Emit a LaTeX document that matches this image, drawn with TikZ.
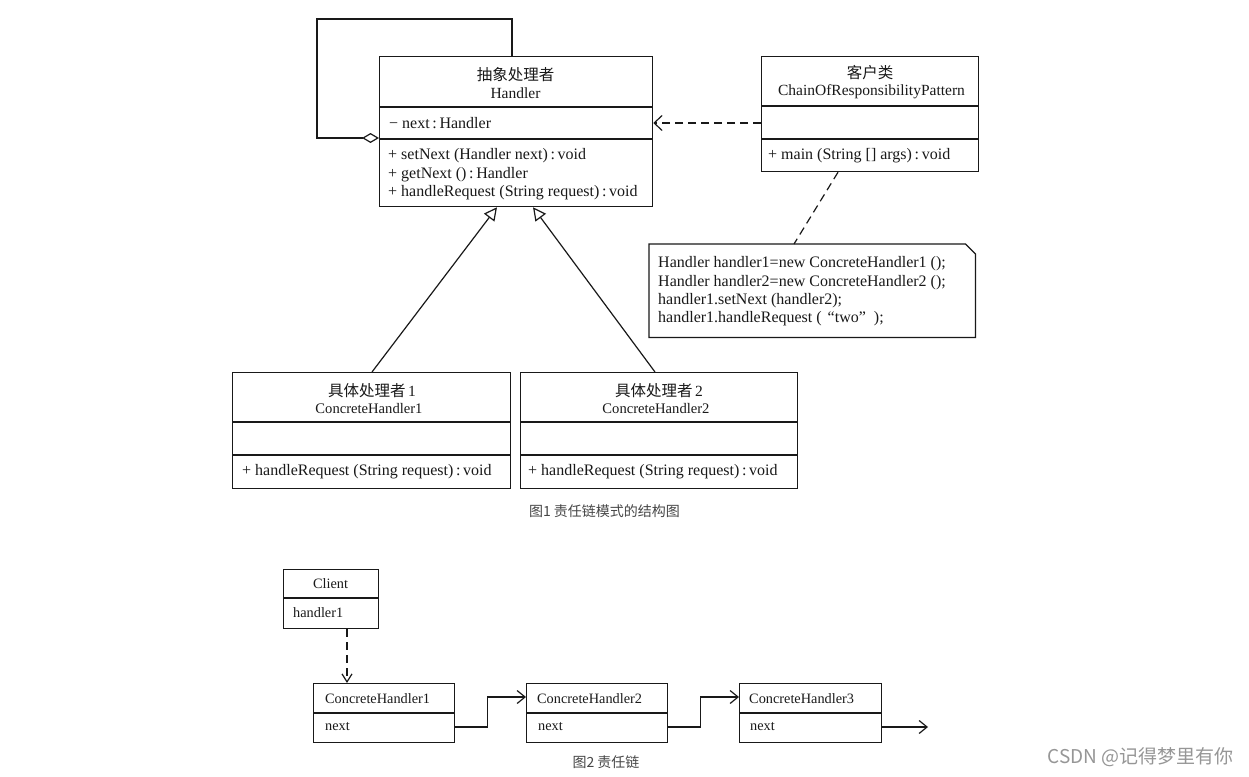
\documentclass[tikz,border=0pt]{standalone}
\usepackage{fontspec}
\setmainfont{Liberation Serif}
\newfontfamily\cjk{Noto Sans CJK SC}
\usetikzlibrary{arrows.meta}
\definecolor{ink}{RGB}{25,25,25}
\definecolor{capgray}{RGB}{70,70,70}
\definecolor{wmgray}{RGB}{150,150,150}
\newcommand{\hdr}{\fontsize{15.5}{18}\selectfont}
\newcommand{\hdrs}{\fontsize{14.6}{18}\selectfont}
\newcommand{\mbr}{\fontsize{16}{19}\selectfont}
\newcommand{\smf}{\fontsize{14.3}{17}\selectfont}
\begin{document}
\begin{tikzpicture}[x=1pt,y=-1pt,
  umlbox/.style={draw=ink, line width=1.25pt, inner sep=0pt, anchor=north west},
  sep/.style={draw=ink, line width=1.25pt},
  ctxt/.style={inner sep=0pt, text=ink, anchor=center},
  ltxt/.style={inner sep=0pt, text=ink, anchor=west},
  conn/.style={draw=ink, line width=1.2pt},
  dep/.style={conn, dash pattern=on 8pt off 5pt, -{Straight Barb[length=8pt,width=15pt]}},
  gen/.style={conn, -{Triangle[open,length=13pt,width=13pt,fill=white]}},
  agg/.style={conn, -{Diamond[open,length=17pt,width=10pt,fill=white]}},
  link/.style={conn, -{Straight Barb[length=8pt,width=13pt]}},
  caption/.style={inner sep=0pt, text=capgray, font=\cjk\fontsize{14}{17}\selectfont}
]
\useasboundingbox (0,0) rectangle (1249,776);
\fill[white] (0,0) rectangle (1249,776);

% ---------- Figure 1 ----------
% Handler
\node[umlbox, minimum width=273pt, minimum height=150pt] (h) at (379,56) {};
\draw[sep] (379,107) -- (652,107);
\draw[sep] (379,139) -- (652,139);
\node[ctxt, font=\cjk\hdr] (ht1) at (515.5,75) {抽象处理者};
\node[ctxt, font=\hdr] (ht2) at (515.5,93) {Handler};
\node[ltxt, font=\mbr] (ha1) at (389,123) {− next\,:\,Handler};
\node[ltxt, font=\mbr] (hm1) at (388,156) {+ setNext (Handler next)\,:\,void};
\node[ltxt, font=\mbr] (hm2) at (388,174.5) {+ getNext ()\,:\,Handler};
\node[ltxt, font=\mbr] (hm3) at (388,193) {+ handleRequest (String request)\,:\,void};

% Client class
\node[umlbox, minimum width=217pt, minimum height=115pt] (cl) at (761,56) {};
\draw[sep] (761,106) -- (978,106);
\draw[sep] (761,139) -- (978,139);
\node[ctxt, font=\cjk\hdr] (ct1) at (870,73) {客户类};
\node[ctxt, font=\hdr] (ct2) at (871.5,92) {ChainOfResponsibilityPattern};
\node[ltxt, font=\mbr] (cm1) at (768,156) {+ main (String [] args)\,:\,void};

% Note
\node[inner sep=0pt, minimum width=326pt, minimum height=93pt, anchor=north west] (note) at (649,244) {};
\draw[conn, line width=1.25pt] (note.north west) -- ([xshift=-10pt]note.north east) -- ([yshift=-10pt]note.north east) -- (note.south east) -- (note.south west) -- cycle;
\node[ltxt, font=\mbr] (n1) at (658,264) {Handler handler1=new ConcreteHandler1 ();};
\node[ltxt, font=\mbr] (n2) at (658,282.5) {Handler handler2=new ConcreteHandler2 ();};
\node[ltxt, font=\mbr] (n3) at (658,300.5) {handler1.setNext (handler2);};
\node[ltxt, font=\mbr] (n4) at (658,319) {handler1.handleRequest (\hspace{6pt}“two”\hspace{8pt});};

% Concrete handlers
\node[umlbox, minimum width=278pt, minimum height=116pt] (ch1) at (232,372) {};
\draw[sep] (232,422) -- (510,422);
\draw[sep] (232,455) -- (510,455);
\node[ctxt, font=\hdr] (c1t1) at (372,391) {{\cjk 具体处理者}\,1};
\node[ctxt, font=\hdrs] (c1t2) at (369,409) {ConcreteHandler1};
\node[ltxt, font=\mbr] (c1m) at (242,472) {+ handleRequest (String request)\,:\,void};

\node[umlbox, minimum width=277pt, minimum height=116pt] (ch2) at (520,372) {};
\draw[sep] (520,422) -- (797,422);
\draw[sep] (520,455) -- (797,455);
\node[ctxt, font=\hdr] (c2t1) at (659,391) {{\cjk 具体处理者}\,2};
\node[ctxt, font=\hdrs] (c2t2) at (656,409) {ConcreteHandler2};
\node[ltxt, font=\mbr] (c2m) at (528,472) {+ handleRequest (String request)\,:\,void};

% Relations
\draw[agg] ([xshift=133pt]h.north west) |- (317,19) |- ([yshift=-82pt]h.north west);
\draw[dep] ([yshift=-67pt]cl.north west) -- ([yshift=-67pt]h.north east);
\draw[conn, dash pattern=on 8pt off 5pt] ([xshift=77pt]cl.south west) -- ([xshift=145pt]note.north west);
\draw[gen] ([xshift=140pt]ch1.north west) -- ([xshift=118pt]h.south west);
\draw[gen] ([xshift=135pt]ch2.north west) -- ([xshift=154pt]h.south west);

\node[caption] (cap1) at (604.5,511) {图1 责任链模式的结构图};

% ---------- Figure 2 ----------
\node[umlbox, minimum width=95pt, minimum height=59pt] (cli) at (283,569) {};
\draw[sep] (283,598) -- (378,598);
\node[ctxt, font=\smf] (clit) at (330.5,584) {Client};
\node[ltxt, font=\smf] (clia) at (293,613) {handler1};

\node[umlbox, minimum width=141pt, minimum height=59pt] (k1) at (313,683) {};
\draw[sep] (313,713) -- (454,713);
\node[ltxt, font=\smf] (k1t) at (325,699) {ConcreteHandler1};
\node[ltxt, font=\smf] (k1a) at (325,727) {next};

\node[umlbox, minimum width=141pt, minimum height=59pt] (k2) at (526,683) {};
\draw[sep] (526,713) -- (667,713);
\node[ltxt, font=\smf] (k2t) at (537,699) {ConcreteHandler2};
\node[ltxt, font=\smf] (k2a) at (538,727) {next};

\node[umlbox, minimum width=142pt, minimum height=59pt] (k3) at (739,683) {};
\draw[sep] (739,713) -- (881,713);
\node[ltxt, font=\smf] (k3t) at (749,699) {ConcreteHandler3};
\node[ltxt, font=\smf] (k3a) at (750,727) {next};

\coordinate (tail) at (928,727);
\draw[conn, dash pattern=on 8pt off 5pt, -{Straight Barb[length=8pt,width=10pt]}] ([xshift=64pt]cli.south west) -- ([xshift=34pt]k1.north west);
\draw[link] ([yshift=-44pt]k1.north east) -- ++(32,0) |- ([yshift=-14pt]k2.north west);
\draw[link] ([yshift=-44pt]k2.north east) -- ++(32,0) |- ([yshift=-14pt]k3.north west);
\draw[link] ([yshift=-44pt]k3.north east) -- (tail);

\node[caption] (cap2) at (606,762) {图2 责任链};

\node[inner sep=0pt, text=wmgray, font=\cjk\fontsize{19}{22}\selectfont, anchor=east] (wm) at (1234,757) {CSDN @记得梦里有你};
\end{tikzpicture}
\end{document}
